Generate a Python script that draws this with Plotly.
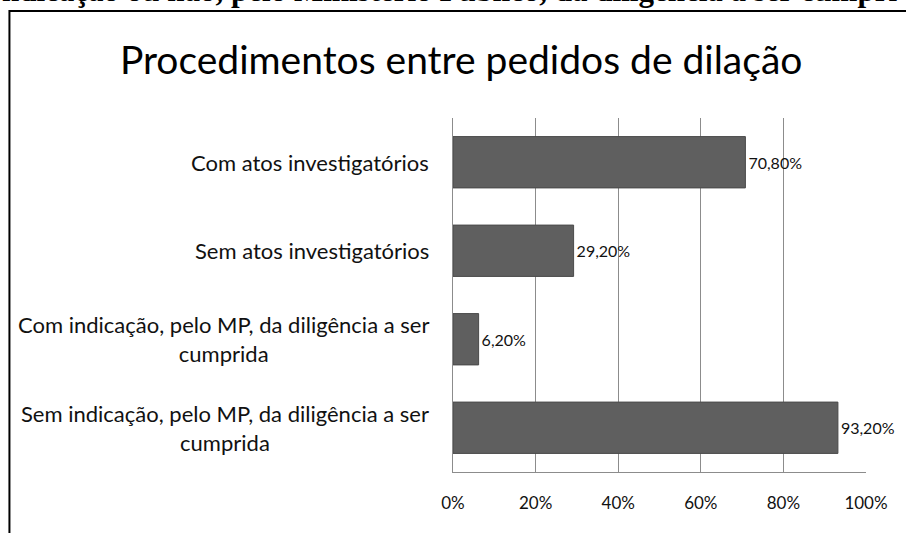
import plotly.graph_objects as go

# dados do gráfico
categorias = [
    "Com atos investigatórios",
    "Sem atos investigatórios",
    "Com indicação, pelo MP, da diligência a ser<br>cumprida",
    "Sem indicação, pelo MP, da diligência a ser<br>cumprida",
]
percentuais = [70.8, 29.2, 6.2, 93.2]
ticks_x = [0, 20, 40, 60, 80, 100]
ticks_texto = ["0%", "20%", "40%", "60%", "80%", "100%"]

titulo = "Procedimentos entre pedidos de dilação"
texto_cortado = "ndicação ou não, pelo Ministério Público, da diligência a ser cumpri"

fonte = "Lato, 'Open Sans', sans-serif"

fig = go.Figure()
fig.add_trace(go.Bar(
    x=percentuais,
    y=categorias,
    orientation="h",
    marker=dict(color="#5f5f5f", line=dict(color="#4a4a4a", width=1)),
    texttemplate="%{x:.2f}%",
    textposition="outside",
    textfont=dict(family=fonte, size=16, color="#111111"),
    cliponaxis=False,
    width=0.58,
    hoverinfo="skip",
))

# rótulos das categorias (linhas centralizadas, bloco alinhado à direita)
for c in categorias:
    fig.add_annotation(
        x=0, xref="paper", y=c, yref="y",
        text=c, showarrow=False,
        xanchor="right", align="center", xshift=-22,
        font=dict(family=fonte, size=22, color="#111111"),
    )

# texto do documento, cortado no topo
fig.add_annotation(
    x=-1.098, xref="paper", y=1.306, yref="paper",
    text="<b>" + texto_cortado + "</b>", showarrow=False,
    xanchor="left", yanchor="bottom",
    font=dict(family="Liberation Serif, serif", size=31, color="#000000"),
)

# moldura do gráfico
fig.add_shape(
    type="rect", xref="paper", yref="paper",
    x0=-1.074, x1=1.3, y0=-0.4, y1=1.302,
    line=dict(color="#000000", width=2),
)

fig.update_layout(
    width=906, height=533,
    margin=dict(l=453, r=40, t=118, b=61),
    paper_bgcolor="white", plot_bgcolor="white",
    separators=",.",
    showlegend=False,
    title=dict(
        text=titulo, x=0.509, xanchor="center", y=0.887, yanchor="middle",
        font=dict(family=fonte, size=39, color="#000000"),
    ),
    xaxis=dict(
        range=[0, 100], tickvals=ticks_x, ticktext=ticks_texto,
        showgrid=True, gridcolor="#8c8c8c", gridwidth=1,
        showline=True, linecolor="#8c8c8c", linewidth=1,
        zeroline=False, ticks="", ticklabelstandoff=16,
        tickfont=dict(family=fonte, size=17, color="#111111"),
        fixedrange=True,
    ),
    yaxis=dict(
        autorange="reversed", showticklabels=False, ticks="",
        showline=True, linecolor="#8c8c8c", linewidth=1,
        showgrid=False, fixedrange=True,
    ),
)

fig.write_html(
    "out.html",
    config={"displayModeBar": False},
    post_script="document.body.style.margin='0';",
)
